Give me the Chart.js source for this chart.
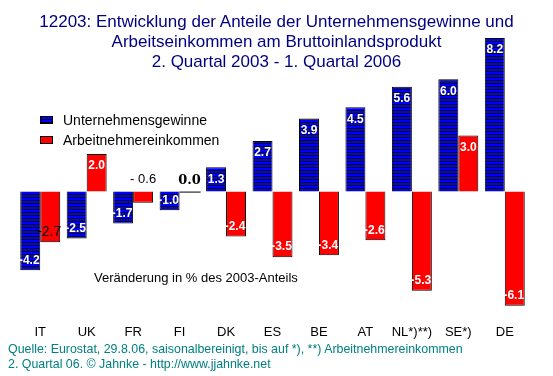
<!DOCTYPE html>
<html lang="de">
<head>
<meta charset="utf-8">
<title>12203 Unternehmensgewinne und Arbeitseinkommen</title>
<script src="https://cdn.jsdelivr.net/npm/chart.js@4"></script>
<style>
    body { margin: 0; background: #ffffff; }
    #wrap { position: relative; width: 553px; height: 376px; font-family: "Liberation Sans", Arial, sans-serif; }
    #chartCanvas { position: absolute; left: 0; top: 0; }
    .txt { position: absolute; white-space: nowrap; }
    #title { left: 0; top: 12px; width: 553px; text-align: center; color: #000080; font-size: 17px; line-height: 20px; }
    #legend { left: 40px; top: 110px; font-size: 14px; line-height: 20px; color: #000000; }
    .legItem { position: relative; padding-left: 23px; }
    .legBox { position: absolute; left: 0; top: 6px; width: 11px; height: 6px; border: 1px solid #000; }
    #note { left: 94px; top: 270px; font-size: 13px; color: #000000; }
    #source { left: 8px; top: 342px; font-size: 12.4px; line-height: 15px; color: #008080; }
</style>
</head>
<body>
<div id="wrap">
    <canvas id="chartCanvas" width="553" height="376"></canvas>
    <div id="title" class="txt">12203: Entwicklung der Anteile der Unternehmensgewinne und<br>Arbeitseinkommen am Bruttoinlandsprodukt<br>2. Quartal 2003 - 1. Quartal 2006</div>
    <div id="legend" class="txt">
        <div class="legItem"><span class="legBox" id="legBlue"></span>Unternehmensgewinne</div>
        <div class="legItem"><span class="legBox" style="background:#ff0000"></span>Arbeitnehmereinkommen</div>
    </div>
    <div id="note" class="txt">Veränderung in % des 2003-Anteils</div>
    <div id="source" class="txt">Quelle: Eurostat, 29.8.06, saisonalbereinigt, bis auf *), **) Arbeitnehmereinkommen<br>2. Quartal 06. © Jahnke - http://www.jjahnke.net</div>
</div>
<script>
const countries = ["IT", "UK", "FR", "FI", "DK", "ES", "BE", "AT", "NL*)**)", "SE*)", "DE"];
const profitShare = [-4.2, -2.5, -1.7, -1.0, 1.3, 2.7, 3.9, 4.5, 5.6, 6.0, 8.2];
const wageShare = [-2.7, 2.0, -0.6, 0.0, -2.4, -3.5, -3.4, -2.6, -5.3, 3.0, -6.1];
const seriesNames = ["Unternehmensgewinne", "Arbeitnehmereinkommen"];

// blue bars with thin black horizontal stripes
function makeStripes() {
    const c = document.createElement("canvas");
    c.width = 4;
    c.height = 3;
    const g = c.getContext("2d");
    g.fillStyle = "#0000ff";
    g.fillRect(0, 0, 4, 3);
    g.fillStyle = "#000000";
    g.fillRect(0, 2, 4, 1);
    return c;
}

const stripeCanvas = makeStripes();
document.getElementById("legBlue").style.background = "url(" + stripeCanvas.toDataURL() + ")";

const valueLabels = {
    id: "valueLabels",
    afterDatasetsDraw(chart) {
        const ctx = chart.ctx;
        ctx.save();
        ctx.textAlign = "center";
        ctx.textBaseline = "middle";
        chart.data.datasets.forEach((ds, di) => {
            const meta = chart.getDatasetMeta(di);
            meta.data.forEach((bar, i) => {
                const v = ds.data[i];
                const txt = v.toFixed(1);
                let color = "#ffffff";
                let font = "bold 12px 'Liberation Sans', Arial, sans-serif";
                let y;
                if (v > 0.8) {
                    y = bar.y + 12;
                } else if (v < -0.8) {
                    y = bar.y - 10;
                } else if (v === 0) {
                    // zero value: just a line on the axis
                    ctx.strokeStyle = "#000000";
                    ctx.lineWidth = 1;
                    ctx.beginPath();
                    ctx.moveTo(bar.x - bar.width / 2, bar.y + 0.5);
                    ctx.lineTo(bar.x + bar.width / 2 + 1, bar.y + 0.5);
                    ctx.stroke();
                    color = "#000000";
                    font = "bold 13px 'DejaVu Serif', serif";
                    y = bar.y - 11;
                } else {
                    color = "#000000";
                    font = "13px 'Liberation Sans', Arial, sans-serif";
                    y = bar.base - 12;
                }
                if (di === 1 && i === 0) {
                    color = "#000000";
                    font = "14px 'Liberation Sans', Arial, sans-serif";
                }
                ctx.fillStyle = color;
                ctx.font = font;
                ctx.fillText(v === -0.6 ? "- 0.6" : txt, bar.x - (v < -0.8 ? 1 : 0), y);
            });
        });
        ctx.restore();
    },
};

const ctx = document.getElementById("chartCanvas").getContext("2d");
const bluePattern = ctx.createPattern(stripeCanvas, "repeat");

new Chart(ctx, {
    type: "bar",
    data: {
        labels: countries,
        datasets: [
            {
                label: seriesNames[0],
                data: profitShare,
                backgroundColor: bluePattern,
                borderColor: "#000000",
                borderWidth: 1,
            },
            {
                label: seriesNames[1],
                data: wageShare,
                backgroundColor: "#ff0000",
                borderColor: "#000000",
                borderWidth: 1,
            },
        ],
    },
    options: {
        responsive: false,
        animation: false,
        layout: { padding: { top: 23, left: 17, right: 25, bottom: 33 } },
        datasets: { bar: { categoryPercentage: 0.86, barPercentage: 1.0 } },
        scales: {
            x: {
                grid: { display: false, drawTicks: false },
                border: { display: false },
                ticks: {
                    color: "#000000",
                    padding: 3,
                    font: { family: "'Liberation Sans', Arial, sans-serif", size: 13 },
                },
            },
            y: {
                display: false,
                min: -6.93,
                max: 9.0,
            },
        },
        plugins: {
            legend: { display: false },
            tooltip: { enabled: false },
        },
    },
    plugins: [valueLabels],
});
</script>
</body>
</html>
